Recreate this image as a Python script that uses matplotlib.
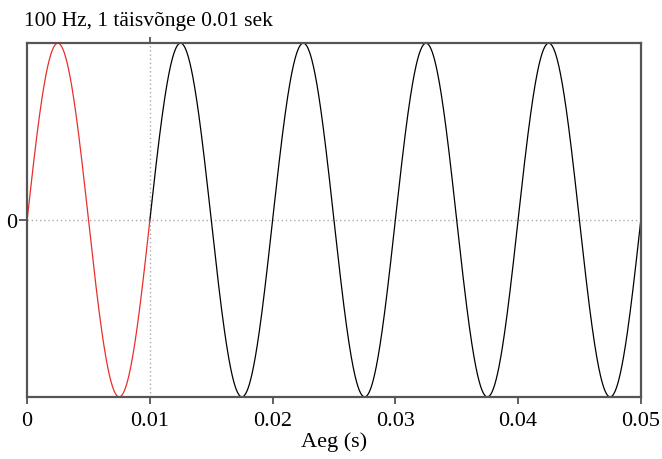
import numpy as np
import matplotlib.pyplot as plt

# signal parameters
freq_hz = 100          # 1 full cycle = 0.01 s
amplitude = 1.0
t_start, t_end = 0.0, 0.05
period = 1.0 / freq_hz
x_ticks = [0, 0.01, 0.02, 0.03, 0.04, 0.05]
x_ticklabels = ['0', '0.01', '0.02', '0.03', '0.04', '0.05']
title = '100 Hz, 1 täisvõnge 0.01 sek'
xlabel = 'Aeg (s)'

plt.rcParams['font.family'] = ['Liberation Serif', 'DejaVu Serif']

t = np.linspace(t_start, t_end, 2001)
y = amplitude * np.sin(2 * np.pi * freq_hz * t)
first = t <= period
rest = t >= period

fig = plt.figure(figsize=(6.62, 4.60), dpi=100)
ax = fig.add_axes([0.041, 0.135, 0.927, 0.769])

ax.axhline(0, color='#aaaaaa', lw=1, ls=(0, (1, 2)), zorder=1)
ax.axvline(period, color='#aaaaaa', lw=1, ls=(0, (1, 2)), zorder=1)

ax.plot(t[rest], y[rest], color='black', lw=0.9)
ax.plot(t[first], y[first], color='#e8302a', lw=0.9)

ax.set_xlim(t_start, t_end)
ax.set_ylim(-amplitude, amplitude)
ax.set_xticks(x_ticks)
ax.set_xticklabels(x_ticklabels)
ax.set_yticks([0])
ax.set_yticklabels(['0'])
ax.tick_params(direction='out', length=5, width=1.2, color='#444444', labelsize=16, pad=5)
ax.tick_params(axis='y', length=6, pad=1)

# small tick on top at one period
top = ax.secondary_xaxis('top')
top.set_xticks([period])
top.set_xticklabels([''])
top.tick_params(direction='out', length=4, width=1.2, color='#444444')
top.spines['top'].set_visible(False)

for s in ax.spines.values():
    s.set_color('#555555')
    s.set_linewidth(1.6)

ax.set_xlabel(xlabel, fontsize=16, labelpad=1)
fig.text(0.037, 0.953, title, fontsize=15.5, va='center', ha='left')

plt.savefig('out.png', dpi=100)
